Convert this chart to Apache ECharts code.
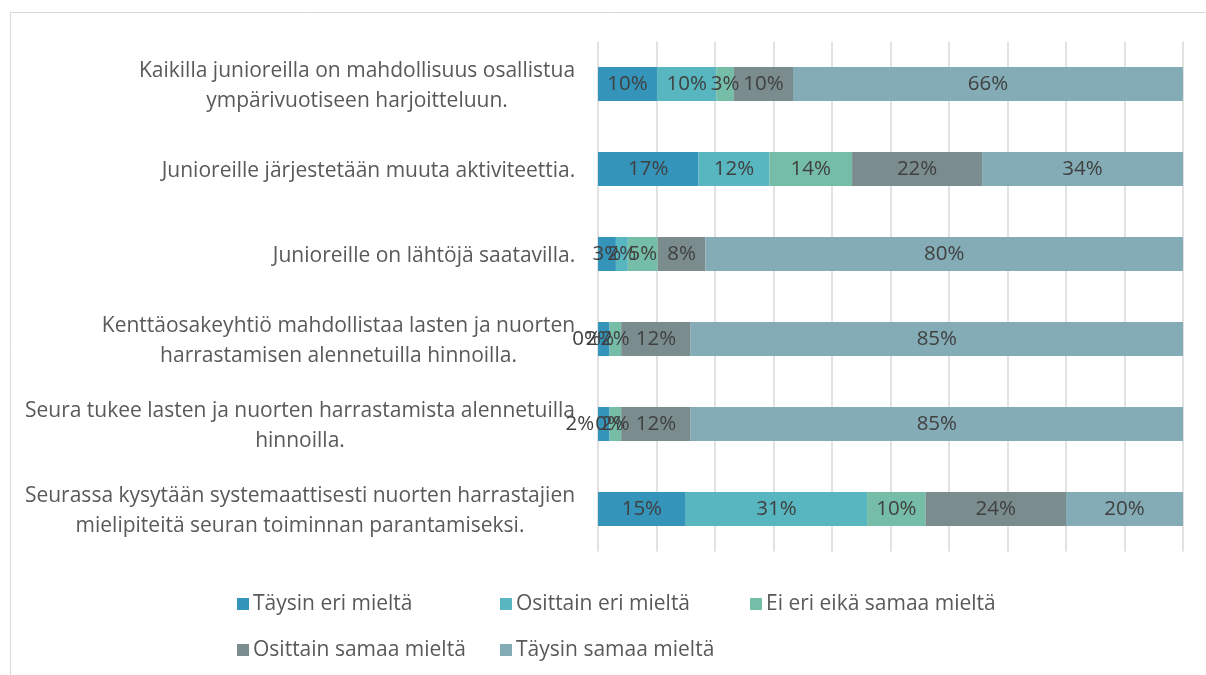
<!DOCTYPE html>
<html><head><meta charset="utf-8">
<script src="https://cdn.jsdelivr.net/npm/echarts@6/dist/echarts.min.js"></script>
<style>html,body{margin:0;padding:0;background:#fff}#c{width:1206px;height:675px}</style>
</head><body><div id="c"></div>
<script>
const categories = [
  "Kaikilla junioreilla on mahdollisuus osallistua\nympärivuotiseen harjoitteluun.",
  "Junioreille järjestetään muuta aktiviteettia.",
  "Junioreille on lähtöjä saatavilla.",
  "Kenttäosakeyhtiö mahdollistaa lasten ja nuorten\nharrastamisen alennetuilla hinnoilla.",
  "Seura tukee lasten ja nuorten harrastamista alennetuilla\nhinnoilla.",
  "Seurassa kysytään systemaattisesti nuorten harrastajien\nmielipiteitä seuran toiminnan parantamiseksi."
];
const seriesNames = ["Täysin eri mieltä","Osittain eri mieltä","Ei eri eikä samaa mieltä","Osittain samaa mieltä","Täysin samaa mieltä"];
const taysinEri    = [10, 17, 3, 2, 2, 15];
const osittainEri  = [10, 12, 2, 0, 0, 31];
const eiEriEikaSamaa = [3, 14, 5, 2, 2, 10];
const osittainSamaa = [10, 22, 8, 12, 12, 24];
const taysinSamaa  = [66, 34, 80, 85, 85, 20];

const raw = [taysinEri, osittainEri, eiEriEikaSamaa, osittainSamaa, taysinSamaa];
const colors = ["#3494BA","#58B6C0","#75BDA7","#7A8C8E","#84ACB6"];
const FONT = "Open Sans";
const CAT_SIZE = 21;
const LBL_SIZE = 20.5;
const LEG_SIZE = 21;

// row totals for 100% stacking (as Excel normalises)
const totals = categories.map((c, i) => raw.reduce((s, arr) => s + arr[i], 0));

// small-segment label offsets (styling)
const offsets = {"0-3": [-4, 0], "1-3": [-23, 0], "0-4": [-24, 0]};

// measure lines for center-aligned multi-line category labels
const cvs = document.createElement('canvas');
const ctx = cvs.getContext('2d');
ctx.font = CAT_SIZE + 'px "' + FONT + '"';
const rich = {};
categories.forEach((c, i) => {
  const w = Math.max(...c.split('\n').map(l => ctx.measureText(l).width));
  rich['c' + i] = {width: Math.ceil(w) + 1, align: 'center', fontFamily: FONT, fontSize: CAT_SIZE, color: '#595959', lineHeight: 29.5};
});

const series = seriesNames.map((name, si) => ({
  name: name,
  type: 'bar',
  stack: 'total',
  barWidth: 34,
  itemStyle: {color: colors[si]},
  label: {
    show: true, position: 'inside', color: '#404040',
    fontFamily: FONT, fontSize: LBL_SIZE,
    formatter: p => raw[p.seriesIndex][p.dataIndex] + '%'
  },
  emphasis: {disabled: true},
  data: raw[si].map((v, di) => {
    const item = {value: v / totals[di] * 100};
    const off = offsets[si + '-' + di];
    if (off) item.label = {offset: off};
    return item;
  })
}));

const legendBase = {top: 592, orient: 'vertical', padding: 0, itemGap: 22, itemWidth: 12, itemHeight: 12, icon: 'rect',
  textStyle: {fontFamily: FONT, fontSize: LEG_SIZE, color: '#595959', lineHeight: 24, padding: [0,0,0,-1]}, selectedMode: false};

const chart = echarts.init(document.getElementById('c'), null, {renderer: 'canvas'});
chart.setOption({
  animation: false,
  backgroundColor: '#fff',
  textStyle: {fontFamily: FONT},
  graphic: [{type: 'rect', shape: {x: 10.5, y: 12.5, width: 1400, height: 900}, style: {fill: 'none', stroke: '#d9d9d9', lineWidth: 1}, silent: true, z: -10}],
  grid: {left: 598, right: 23, top: 41.5, bottom: 123.5, containLabel: false},
  xAxis: {
    type: 'value', min: 0, max: 100, interval: 10,
    axisLabel: {show: false}, axisLine: {show: false}, axisTick: {show: false},
    splitLine: {show: true, lineStyle: {color: '#d9d9d9', width: 1.5}}
  },
  yAxis: {
    type: 'category', inverse: true, data: categories,
    axisLine: {show: false}, axisTick: {show: false},
    axisLabel: {
      margin: 22, align: 'right', padding: [4, 0, 0, 0],
      formatter: (val, idx) => val.split('\n').map(l => '{c' + idx + '|' + l + '}').join('\n'),
      rich: rich
    }
  },
  legend: [
    Object.assign({left: 237, data: [seriesNames[0], seriesNames[3]]}, legendBase),
    Object.assign({left: 500, data: [seriesNames[1], seriesNames[4]]}, legendBase),
    Object.assign({left: 750, data: [seriesNames[2]]}, legendBase)
  ],
  series: series
});
</script></body></html>
